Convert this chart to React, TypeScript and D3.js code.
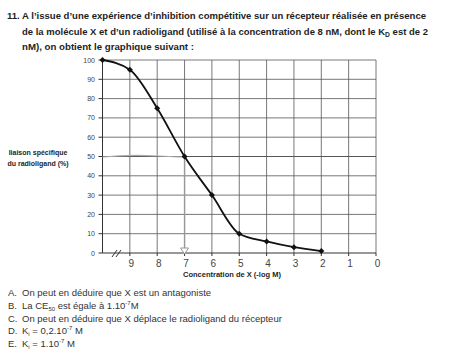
import React from "react";
import * as d3 from "d3";

const titleLines = [
  "11. A l’issue d’une expérience d’inhibition compétitive sur un récepteur réalisée en présence",
  "de la molécule X et d’un radioligand (utilisé à la concentration de 8 nM, dont le K",
  "nM), on obtient le graphique suivant :",
];
const concentrations = [10, 9, 8, 7, 6, 5, 4, 3, 2];
const binding = [100, 95, 75, 50, 30, 10, 6, 3, 1];
const xTicks = [9, 8, 7, 6, 5, 4, 3, 2, 1, 0];
const yTicks = [0, 10, 20, 30, 40, 50, 60, 70, 80, 90, 100];
const answerLetters = ["A.", "B.", "C.", "D.", "E."];
const answerA = "On peut en déduire que X est un antagoniste";
const answerC = "On peut en déduire que X déplace le radioligand du récepteur";

export default function App() {
  const W = 458, H = 349;
  const x = d3.scaleLinear().domain([10, 0]).range([102.5, 376]);
  const y = d3.scaleLinear().domain([0, 100]).range([253, 60]);
  const pts = concentrations.map((c, i) => [x(c), y(binding[i])] as [number, number]);
  const line = d3.line().curve(d3.curveMonotoneX)(pts) || "";
  const grid = "#555";
  const font = "'Liberation Sans', Arial, sans-serif";
  const tc = "#1e1e1e";
  return (
    <svg width={W} height={H} style={{ position: "absolute", left: 0, top: 0, background: "#fff" }}>
      <rect width={W} height={H} fill="#fff" />
      {/* title */}
      <g fontFamily={font} fontWeight="bold" fontSize={9.2} fill={tc}>
        <text x={7} y={19} textLength={419} lengthAdjust="spacingAndGlyphs">{titleLines[0]}</text>
        <text x={22} y={35} textLength={406} lengthAdjust="spacingAndGlyphs">{titleLines[1]}<tspan fontSize={6.5} dy={2}>D</tspan><tspan dy={-2}> est de 2</tspan></text>
        <text x={22} y={50} textLength={172} lengthAdjust="spacingAndGlyphs">{titleLines[2]}</text>
      </g>
      {/* grid */}
      <g stroke={grid} strokeWidth={0.8}>
        {yTicks.filter(t => t > 0).map(t => (
          <line key={"h" + t} x1={x(10)} x2={x(0)} y1={y(t)} y2={y(t)} strokeWidth={t === 50 ? 1.2 : 0.8} />
        ))}
        {xTicks.map(t => (
          <line key={"v" + t} x1={x(t)} x2={x(t)} y1={y(0)} y2={y(100)} />
        ))}
      </g>
      {/* axes */}
      <g stroke="#333" strokeWidth={1}>
        <line x1={x(10)} x2={x(10)} y1={y(0)} y2={y(100)} />
        <line x1={x(10)} x2={x(0)} y1={y(0)} y2={y(0)} />
        {yTicks.map(t => (
          <line key={"yt" + t} x1={x(10) - 4} x2={x(10)} y1={y(t)} y2={y(t)} />
        ))}
        {xTicks.map(t => (
          <line key={"xt" + t} x1={x(t)} x2={x(t)} y1={y(0)} y2={y(0) + 3} />
        ))}
        <line x1={112} x2={117} y1={257} y2={250} />
        <line x1={116} x2={121} y1={257} y2={250} />
      </g>
      {/* y tick labels */}
      <g fontFamily={font} fontSize={7} fill="#444" textAnchor="end">
        {yTicks.map(t => (
          <text key={"yl" + t} x={95} y={y(t) + 2.5}>{t}</text>
        ))}
      </g>
      {/* x tick labels */}
      <g fontFamily={font} fontSize={10} fill="#444" textAnchor="middle">
        {xTicks.map(t => (
          <text key={"xl" + t} x={x(t) + 1.5} y={267}>{t}</text>
        ))}
      </g>
      {/* axis titles */}
      <text x={232} y={277} fontFamily={font} fontSize={7.5} fontWeight="bold" fill={tc} textAnchor="middle">Concentration de X (-log M)</text>
      <g fontFamily={font} fontSize={7} fontWeight="bold" fill={tc} textAnchor="middle">
        <text x={38} y={155}>liaison spécifique</text>
        <text x={38} y={166}>du radioligand  (%)</text>
      </g>
      {/* gray annotations */}
      <path d={`M${x(10)},${y(50) + 0.5} Q${x(9)},${y(50) - 2} ${x(8)},${y(50) - 0.5} T${x(7)},${y(50)}`} fill="none" stroke="#aaa" strokeWidth={1.2} />
      <line x1={x(7)} x2={x(7)} y1={y(50)} y2={y(0) - 4} stroke="#999" strokeWidth={1.4} />
      <path d={`M${x(7) - 4},${y(0) - 5} L${x(7) + 4},${y(0) - 5} L${x(7)},${y(0) + 1} Z`} fill="#fff" stroke="#999" strokeWidth={1} />
      {/* curve */}
      <path d={line} fill="none" stroke="#111" strokeWidth={1.8} />
      {pts.map((p, i) => (
        <path key={"pt" + i} d={`M${p[0]},${p[1] - 3} L${p[0] + 3},${p[1]} L${p[0]},${p[1] + 3} L${p[0] - 3},${p[1]} Z`} fill="#111" />
      ))}
      {/* answers */}
      <g fontFamily={font} fontSize={9.5} fill="#333">
        {answerLetters.map((a, i) => (
          <text key={"a" + i} x={8} y={296 + i * 12.8}>{a}</text>
        ))}
        <text x={22} y={296}>{answerA}</text>
        <text x={22} y={308.8}>La CE<tspan fontSize={6} dy={2}>50</tspan><tspan dy={-2}> est égale à 1.10</tspan><tspan fontSize={6} dy={-4}>-7</tspan><tspan dy={4}>M</tspan></text>
        <text x={22} y={321.6}>{answerC}</text>
        <text x={22} y={334.4}>K<tspan fontSize={6} dy={2}>i</tspan><tspan dy={-2}> = 0,2.10</tspan><tspan fontSize={6} dy={-4}>-7</tspan><tspan dy={4}> M</tspan></text>
        <text x={22} y={347.2}>K<tspan fontSize={6} dy={2}>i</tspan><tspan dy={-2}> = 1.10</tspan><tspan fontSize={6} dy={-4}>-7</tspan><tspan dy={4}> M</tspan></text>
      </g>
    </svg>
  );
}
